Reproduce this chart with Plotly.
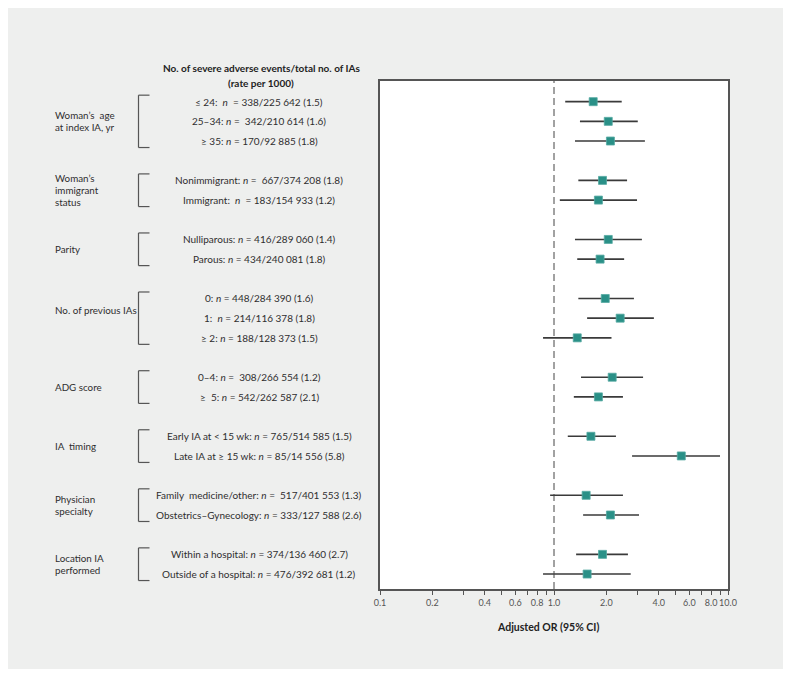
import plotly.graph_objects as go

# ---------------- data ----------------
group_labels = [
    ["Woman’s  age", "at index IA, yr"],
    ["Woman’s", "immigrant", "status"],
    ["Parity"],
    ["No. of previous IAs"],
    ["ADG score"],
    ["IA  timing"],
    ["Physician", "specialty"],
    ["Location IA", "performed"],
]
group_sizes = [3, 2, 2, 3, 2, 2, 2, 2]

row_labels = [
    "≤ 24:  <i>n</i>  = 338/225 642 (1.5)",
    "25–34: <i>n</i> =  342/210 614 (1.6)",
    "≥ 35: <i>n</i> = 170/92 885 (1.8)",
    "Nonimmigrant: <i>n</i> =  667/374 208 (1.8)",
    "Immigrant:  <i>n</i>  = 183/154 933 (1.2)",
    "Nulliparous: <i>n</i> = 416/289 060 (1.4)",
    "Parous: <i>n</i> = 434/240 081 (1.8)",
    "0: <i>n</i> = 448/284 390 (1.6)",
    "1:  <i>n</i> = 214/116 378 (1.8)",
    "≥ 2: <i>n</i> = 188/128 373 (1.5)",
    "0–4: <i>n</i> =  308/266 554 (1.2)",
    "≥  5: <i>n</i> = 542/262 587 (2.1)",
    "Early IA at &lt; 15 wk: <i>n</i> = 765/514 585 (1.5)",
    "Late IA at ≥ 15 wk: <i>n</i> = 85/14 556 (5.8)",
    "Family  medicine/other: <i>n</i> =  517/401 553 (1.3)",
    "Obstetrics–Gynecology: <i>n</i> = 333/127 588 (2.6)",
    "Within a hospital: <i>n</i> = 374/136 460 (2.7)",
    "Outside of a hospital: <i>n</i> = 476/392 681 (1.2)",
]

odds_ratio = [1.68, 2.05, 2.11, 1.90, 1.80, 2.05, 1.84, 1.97, 2.40, 1.36,
              2.16, 1.80, 1.63, 5.39, 1.53, 2.11, 1.90, 1.55]
ci_low = [1.16, 1.41, 1.32, 1.38, 1.08, 1.32, 1.36, 1.38, 1.55, 0.865,
          1.43, 1.30, 1.20, 2.81, 0.95, 1.47, 1.34, 0.865]
ci_high = [2.45, 3.03, 3.33, 2.63, 3.00, 3.20, 2.53, 2.88, 3.75, 2.14,
           3.25, 2.49, 2.27, 9.00, 2.49, 3.08, 2.66, 2.76]

tick_values = [0.1, 0.2, 0.3, 0.4, 0.5, 0.6, 0.7, 0.8, 0.9, 1.0,
               2.0, 3.0, 4.0, 5.0, 6.0, 7.0, 8.0, 9.0, 10.0]
tick_text = ["0.1", "0.2", "", "0.4", "", "0.6", "", "0.8", "", "1.0",
             "2.0", "", "4.0", "", "6.0", "", "8.0", "", "10.0"]

header = ["No. of severe adverse events/total no. of IAs", "(rate per 1000)"]
x_title = "Adjusted OR (95% CI)"

# ---------------- layout helpers ----------------
# the page body has an 8px margin; page pixel p maps to figure pixel p - 8
OFF = 8
W, H = 791 - OFF, 677 - OFF
L, R, T, B = 380 - OFF, 728 - OFF, 81 - OFF, 589 - OFF
pw, ph = R - L, B - T


def px_x(p):
    return (p - OFF - L) / pw


def px_y(p):
    return (B - (p - OFF)) / ph


# row positions: consecutive rows 1 apart, groups separated by 2
row_pos = []
group_spans = []
pos = 0
for gi, n in enumerate(group_sizes):
    if gi > 0:
        pos += 1
    start = pos
    for k in range(n):
        row_pos.append(pos)
        pos += 1
    group_spans.append((start, pos - 1))

FONT = "Lato, 'Source Sans Pro', sans-serif"
TEXT = "#2e2e2e"
TEAL = "#2a9087"

fig = go.Figure()

fig.add_trace(go.Scatter(
    x=odds_ratio,
    y=row_pos,
    mode="markers",
    marker=dict(symbol="square", size=8, color=TEAL,
                line=dict(color="#55aaa2", width=0.8)),
    error_x=dict(type="data", symmetric=False,
                 array=[h - o for h, o in zip(ci_high, odds_ratio)],
                 arrayminus=[o - l for o, l in zip(odds_ratio, ci_low)],
                 color="#3a3a3a", thickness=1.6, width=0),
    showlegend=False,
    hoverinfo="skip",
))

shapes = []
# grey panel
shapes.append(dict(type="rect", xref="paper", yref="paper",
                   x0=px_x(6), x1=px_x(784), y0=px_y(669), y1=px_y(6),
                   fillcolor="#eeefee", line=dict(width=0), layer="below"))
shapes.append(dict(type="rect", xref="paper", yref="paper",
                   x0=0, x1=1, y0=0, y1=1,
                   fillcolor="white", line=dict(width=0), layer="below"))
# reference line at OR = 1
shapes.append(dict(type="line", xref="x", yref="paper", x0=1, x1=1, y0=0, y1=1,
                   line=dict(color="#444444", width=1, dash="7px,4px")))

annotations = []
# brackets + group labels
bx0, bx1 = px_x(138.5), px_x(149.5)
label_offsets = [0, 0, 0, -0.4, 0, 0, 0, 0]
for gi, (s, e) in enumerate(group_spans):
    y0, y1 = s - 0.33, e + 0.33
    line = dict(color="#555555", width=1.2)
    shapes.append(dict(type="line", xref="paper", yref="y", x0=bx0, x1=bx0, y0=y0, y1=y1, line=line))
    shapes.append(dict(type="line", xref="paper", yref="y", x0=bx0, x1=bx1, y0=y0, y1=y0, line=line))
    shapes.append(dict(type="line", xref="paper", yref="y", x0=bx0, x1=bx1, y0=y1, y1=y1, line=line))
    lines = group_labels[gi]
    c = (s + e) / 2 + label_offsets[gi]
    for k, t in enumerate(lines):
        yy = c + (k - (len(lines) - 1) / 2) * 0.6
        annotations.append(dict(text=t, xref="paper", yref="y", x=px_x(53), y=yy,
                                xanchor="left", yanchor="middle", showarrow=False,
                                font=dict(family=FONT, size=9.8, color=TEXT)))

# row labels
for t, y in zip(row_labels, row_pos):
    annotations.append(dict(text=t, xref="paper", yref="y", x=px_x(259), y=y,
                            xanchor="center", yanchor="middle", showarrow=False,
                            font=dict(family=FONT, size=10, color=TEXT)))

# header
for t, py in zip(header, [68, 83]):
    annotations.append(dict(text="<b>" + t + "</b>", xref="paper", yref="paper",
                            x=px_x(261), y=px_y(py), xanchor="center", yanchor="middle",
                            showarrow=False, font=dict(family=FONT, size=10, color="#222222")))

# x-axis title
annotations.append(dict(text="<b>" + x_title + "</b>", xref="paper", yref="paper",
                        x=px_x(548), y=px_y(627), xanchor="center", yanchor="middle",
                        showarrow=False, font=dict(family=FONT, size=10.5, color="#222222")))

fig.update_layout(
    width=W, height=H,
    margin=dict(l=L, r=W - R, t=T, b=H - B, pad=0),
    paper_bgcolor="white",
    plot_bgcolor="white",
    shapes=shapes,
    annotations=annotations,
    font=dict(family=FONT, color=TEXT),
    xaxis=dict(type="log", range=[-1, 1], tickvals=tick_values, ticktext=tick_text,
               ticks="outside", ticklen=4, tickwidth=1, tickcolor="#555555",
               tickangle=0,
               showline=True, mirror=True, linecolor="#555555", linewidth=1.5,
               showgrid=False, zeroline=False,
               tickfont=dict(family=FONT, size=9, color="#555555")),
    yaxis=dict(range=[24.76, -1.05], showticklabels=False, ticks="",
               showline=True, mirror=True, linecolor="#555555", linewidth=1.5,
               showgrid=False, zeroline=False),
)

fig.write_html("out.html")
